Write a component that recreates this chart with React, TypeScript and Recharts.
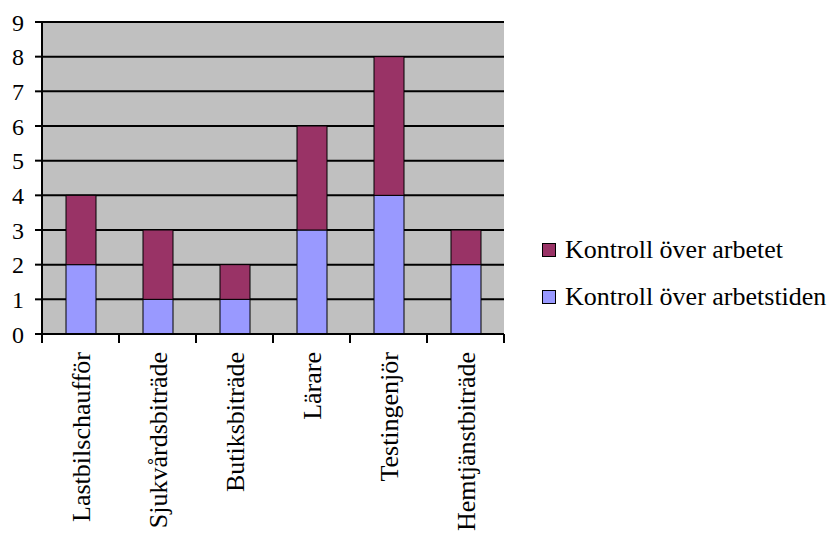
import React from "react";
import {
  BarChart,
  Bar,
  XAxis,
  YAxis,
  CartesianGrid
} from "recharts";

const categories = [
  "Lastbilschaufför",
  "Sjukvårdsbiträde",
  "Butiksbiträde",
  "Lärare",
  "Testingenjör",
  "Hemtjänstbiträde"
];
const arbetstiden = [2, 1, 1, 3, 4, 2];
const arbetet = [2, 2, 1, 3, 4, 1];
const yTicks = [0, 1, 2, 3, 4, 5, 6, 7, 8, 9];

const seriesInfo = [
  { key: "arbetet", label: "Kontroll över arbetet", color: "#993366" },
  { key: "arbetstiden", label: "Kontroll över arbetstiden", color: "#9999ff" }
];

const data = categories.map((name, i) => ({
  name,
  arbetstiden: arbetstiden[i],
  arbetet: arbetet[i]
}));

const FONT = "'Liberation Serif', 'DejaVu Serif', serif";

const CategoryTick = (props: any) => {
  const { x, y, payload, width, visibleTicksCount, index } = props;
  const band = width / visibleTicksCount;
  const half = payload.offset || band / 2;
  return (
    <g>
      <line x1={x - half} x2={x - half} y1={y - 8} y2={y + 1} stroke="#000" strokeWidth={2} />
      {index === visibleTicksCount - 1 && (
        <line x1={x + half} x2={x + half} y1={y - 8} y2={y + 1} stroke="#000" strokeWidth={2} />
      )}
      <text
        x={0}
        y={0}
        transform={`translate(${x + 9}, ${y + 10}) rotate(-90)`}
        textAnchor="end"
        fontFamily={FONT}
        fontSize={26}
        fill="#000"
      >
        {payload.value}
      </text>
    </g>
  );
};

export default function App() {
  return (
    <div style={{ position: "absolute", left: 0, top: 0, width: 833, height: 533, background: "#fff" }}>
      <BarChart
        width={833}
        height={533}
        data={data}
        margin={{ top: 22, right: 329, bottom: 0, left: 0 }}
        barCategoryGap={0}
      >
        <CartesianGrid
          vertical={false}
          horizontal={true}
          stroke="#000"
          strokeWidth={2}
          fill="#c0c0c0"
        />
        <XAxis
          dataKey="name"
          height={199}
          interval={0}
          tickLine={false}
          axisLine={{ stroke: "#000", strokeWidth: 2 }}
          tick={<CategoryTick />}
        />
        <YAxis
          width={42}
          domain={[0, 9]}
          ticks={yTicks}
          interval={0}
          tickSize={7}
          tickMargin={11}
          axisLine={{ stroke: "#000", strokeWidth: 2 }}
          tickLine={{ stroke: "#000", strokeWidth: 2 }}
          tick={{ fontFamily: FONT, fontSize: 24, fill: "#000" }}
        />
        <YAxis
          yAxisId="frame"
          orientation="right"
          width={0}
          domain={[0, 9]}
          tick={false}
          tickLine={false}
          axisLine={{ stroke: "#808080", strokeWidth: 2 }}
        />
        <Bar
          dataKey="arbetstiden"
          stackId="a"
          fill="#9999ff"
          stroke="#000"
          strokeWidth={1}
          barSize={30}
          isAnimationActive={false}
        />
        <Bar
          dataKey="arbetet"
          stackId="a"
          fill="#993366"
          stroke="#000"
          strokeWidth={1}
          barSize={30}
          isAnimationActive={false}
        />
      </BarChart>
      <div
        style={{
          position: "absolute",
          left: 542,
          top: 226,
          fontFamily: FONT,
          fontSize: 26,
          color: "#000",
          whiteSpace: "nowrap"
        }}
      >
        {seriesInfo.map((item) => (
          <div key={item.key} style={{ display: "flex", alignItems: "center", height: 47 }}>
            <span
              style={{
                display: "inline-block",
                width: 12,
                height: 12,
                background: item.color,
                border: "1px solid #000",
                marginRight: 9
              }}
            />
            {item.label}
          </div>
        ))}
      </div>
    </div>
  );
}
